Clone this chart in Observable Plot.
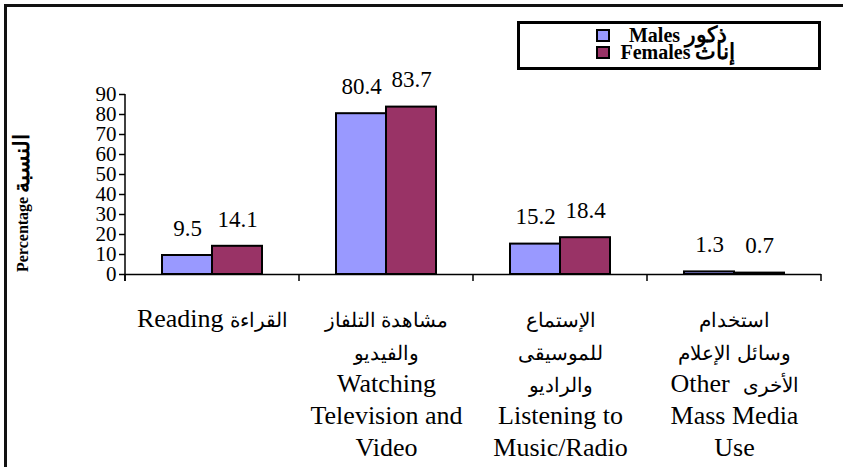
<!DOCTYPE html>
<html>
<head>
<meta charset="utf-8">
<script src="https://cdn.jsdelivr.net/npm/d3@7"></script>
<script src="https://cdn.jsdelivr.net/npm/@observablehq/plot@0.6"></script>
<style>
  html, body { margin: 0; padding: 0; background: #fff; }
  #wrap { position: relative; width: 843px; height: 467px; overflow: hidden; font-family: "Liberation Serif", "Times New Roman", serif; }
  #frame { position: absolute; left: 4px; top: 4px; width: 900px; height: 600px; border-left: 3px solid #111; border-top: 3px solid #111; box-sizing: border-box; pointer-events: none; }
  #chart { position: absolute; left: 0; top: 0; }
  #legend { position: absolute; left: 517px; top: 21px; width: 304px; height: 49px; border: 3px solid #000; box-sizing: border-box; background: #fff; }
  #legend .row { position: absolute; left: 76px; height: 17px; width: 150px; font-weight: bold; font-size: 20px; line-height: 17px; white-space: nowrap; }
  #legend .sw { position: absolute; left: 0; top: 2px; width: 14px; height: 13px; border: 2px solid #000; box-sizing: border-box; }
  #legend .lbl { position: absolute; left: 18px; top: 0; width: 128px; text-align: center; }
  #legend .ar { font-size: 1.1em; line-height: 0; }
</style>
</head>
<body>
<div id="wrap">
  <div id="chart"></div>
  <div id="frame"></div>
  <div id="legend"></div>
</div>
<script>
// ---- data ----
const categories = ["Reading", "Watching TV and Video", "Listening to Music/Radio", "Other Mass Media Use"];
const categoryLabels = [
  "Reading القراءة",
  "مشاهدة التلفاز\nوالفيديو\nWatching\nTelevision and\nVideo",
  "الإستماع\nللموسيقى\nوالراديو\nListening to\nMusic/Radio",
  "استخدام\nوسائل الإعلام\nOther  الأخرى\nMass Media\nUse"
];
const sexes = ["Males", "Females"];
const sexLabels = ["Males ذكور", "Females إناث"];
const males = [9.5, 80.4, 15.2, 1.3];
const females = [14.1, 83.7, 18.4, 0.7];
const yTicks = [0, 10, 20, 30, 40, 50, 60, 70, 80, 90];
const yTitle = "Percentage النسبة";
const colors = ["#9999FF", "#993366"];

const data = categories.flatMap((c, i) => [
  {category: c, sex: sexes[0], value: males[i]},
  {category: c, sex: sexes[1], value: females[i]}
]);

const chart = Plot.plot({
  width: 843,
  height: 467,
  marginLeft: 125,
  marginRight: 22,
  marginTop: 94,
  marginBottom: 193,
  style: {fontFamily: '"Liberation Serif", "Times New Roman", serif', background: "transparent", color: "#000", overflow: "visible"},
  fx: {domain: categories, padding: 0, axis: null},
  x: {domain: sexes, paddingInner: 0, paddingOuter: 0.74, axis: null},
  y: {domain: [0, 90], axis: null},
  color: {domain: sexes, range: colors},
  marks: [
    Plot.barY(data, {fx: "category", x: "sex", y: "value", fill: "sex", stroke: "#000", strokeWidth: 2}),
    Plot.text(data, {fx: "category", x: "sex", y: "value", text: d => d.value.toFixed(1), dy: -27, fontSize: 23, fill: "#000"}),
    Plot.ruleY([0], {stroke: "#000", strokeWidth: 1.5}),
    Plot.axisY({ticks: yTicks, tickSize: 6, tickPadding: 3, fontSize: 21, label: null, stroke: "#000", strokeWidth: 1.5, fill: "#000"}),
    Plot.axisFx({anchor: "bottom", tickSize: 0, tickPadding: 30, fontSize: 26, lineHeight: 1.24, label: null, fill: "#000",
      tickFormat: d => categoryLabels[categories.indexOf(d)]})
  ]
});
document.getElementById("chart").appendChild(chart);

// axis line and category boundary ticks from the plot's own scales
const svg = d3.select(chart);
const fx = chart.scale("fx"), y = chart.scale("y");
const y0 = y.apply(0), yTop = y.apply(d3.max(yTicks));
const xStart = fx.apply(categories[0]);
svg.append("line").attr("x1", xStart).attr("x2", xStart).attr("y1", yTop).attr("y2", y0 + 7)
  .attr("stroke", "#000").attr("stroke-width", 1.5);
const edges = categories.map(c => fx.apply(c)).concat([fx.apply(categories[categories.length - 1]) + fx.bandwidth]);
svg.append("g").selectAll("line").data(edges).join("line")
  .attr("x1", d => d).attr("x2", d => d).attr("y1", y0).attr("y2", y0 + 7)
  .attr("stroke", "#000").attr("stroke-width", 1.5);
const titleNode = svg.append("text")
  .attr("transform", `translate(24,${y0 - 2}) rotate(-90)`)
  .attr("text-anchor", "start").attr("dominant-baseline", "middle")
  .attr("font-weight", "bold").attr("font-size", 16).attr("fill", "#000")
  .text(yTitle).node();

// Arabic runs: the fallback Arabic face is sized differently from Times, so rescale those runs
const AR = /([\u0600-\u06FF]+(?:\s+[\u0600-\u06FF]+)*)/;
function splitArabic(el, scale, ns) {
  const txt = el.textContent;
  if (!AR.test(txt)) return;
  const parts = txt.split(AR).filter(p => p !== "");
  el.textContent = "";
  parts.forEach(p => {
    const isAr = /^[\u0600-\u06FF\s]+$/.test(p.trim()) && AR.test(p);
    if (ns) {
      const t = document.createElementNS("http://www.w3.org/2000/svg", "tspan");
      t.textContent = p;
      if (isAr) t.setAttribute("font-size", `${scale}em`);
      el.appendChild(t);
    } else {
      const s = document.createElement("span");
      s.textContent = p;
      if (isAr) s.className = "ar";
      el.appendChild(s);
    }
  });
}
chart.querySelectorAll("[aria-label='fx-axis tick label'] tspan, [aria-label='fx-axis tick label'] text").forEach(el => {
  if (el.children.length === 0) splitArabic(el, 0.78, true);
});
splitArabic(titleNode, 1.35, true);

// legend
const rows = d3.select("#legend").selectAll("div.row").data(sexes).join("div")
  .attr("class", "row").style("top", (d, i) => `${3 + 17 * i}px`);
rows.append("div").attr("class", "sw").style("background", (d, i) => colors[i]);
rows.append("span").attr("class", "lbl").text((d, i) => sexLabels[i]).each(function() { splitArabic(this, 1.1, false); });
</script>
</body>
</html>
